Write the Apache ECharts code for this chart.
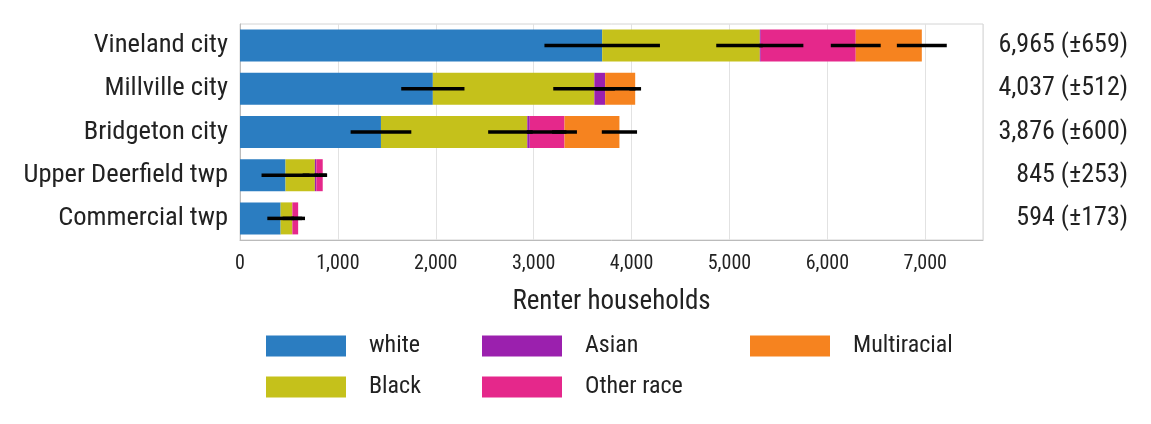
<!DOCTYPE html>
<html>
<head>
<meta charset="utf-8">
<script src="https://cdn.jsdelivr.net/npm/echarts@6/dist/echarts.min.js"></script>
<style>
  html, body { margin: 0; padding: 0; background: #fff; }
  #chart { width: 1151px; height: 424px; }
</style>
</head>
<body>
<div id="chart"></div>
<script>
const categories = ['Vineland city', 'Millville city', 'Bridgeton city', 'Upper Deerfield twp', 'Commercial twp'];

// renter households by race of householder
const white = [3700, 1970, 1440, 465, 415];
const black = [1610, 1650, 1495, 300, 120];
const asian = [10, 110, 25, 15, 0];
const otherRace = [970, 0, 355, 65, 59];
const multiracial = [675, 307, 561, 0, 0];

// margins of error per segment
const whiteMoe = [590, 323, 310, 245, 136];
const blackMoe = [445, 420, 400, 125, 100];
const asianMoe = [20, 100, 30, 20, 0];
const otherRaceMoe = [255, 0, 127, 40, 70];
const multiracialMoe = [255, 60, 180, 0, 0];

const totals = [6965, 4037, 3876, 845, 594];
const totalMoe = [659, 512, 600, 253, 173];

const groups = [
  { name: 'white', values: white, moe: whiteMoe, color: '#2b7dc1' },
  { name: 'Black', values: black, moe: blackMoe, color: '#c5c11b' },
  { name: 'Asian', values: asian, moe: asianMoe, color: '#9b20ae' },
  { name: 'Other race', values: otherRace, moe: otherRaceMoe, color: '#e5288b' },
  { name: 'Multiracial', values: multiracial, moe: multiracialMoe, color: '#f6831f' }
];

// error bars sit at the right end of each stacked segment
const errorData = [];
categories.forEach((c, i) => {
  let end = 0;
  groups.forEach(g => {
    end += g.values[i];
    if (g.values[i] > 0 && g.moe[i] > 0) {
      errorData.push([end - g.moe[i], end + g.moe[i], i]);
    }
  });
});

const fontFamily = 'Roboto';
const fontStyle = 'semi-condensed';
const textColor = '#222';
const fmt = v => v.toLocaleString('en-US');

const chart = echarts.init(document.getElementById('chart'));

const legendBase = {
  orient: 'vertical',
  top: 334,
  padding: 0,
  itemWidth: 80,
  itemHeight: 21,
  itemGap: 17,
  icon: 'rect',
  selectedMode: false,
  textStyle: { fontFamily, fontStyle, fontSize: 24, color: textColor, padding: [0, 0, 0, 18] }
};

chart.setOption({
  animation: false,
  grid: {
    left: 240, right: 168, top: 24, bottom: 184,
    show: true, borderColor: '#d4d4d4', borderWidth: 1
  },
  legend: [
    Object.assign({}, legendBase, { left: 266, data: ['white', 'Black'] }),
    Object.assign({}, legendBase, { left: 482, data: ['Asian', 'Other race'] }),
    Object.assign({}, legendBase, { left: 750, data: ['Multiracial'] })
  ],
  xAxis: {
    type: 'value',
    min: 0,
    max: 7590,
    interval: 1000,
    name: 'Renter households',
    nameLocation: 'middle',
    nameGap: 49,
    nameTextStyle: { fontFamily, fontStyle, fontSize: 27, color: textColor },
    axisLine: { show: true, lineStyle: { color: '#bbb' } },
    axisTick: { show: false },
    axisLabel: {
      fontFamily, fontStyle, fontSize: 20, color: textColor, margin: 14,
      showMaxLabel: false,
      formatter: v => fmt(v)
    },
    splitLine: { show: true, lineStyle: { color: '#e2e2e2', width: 1 } }
  },
  yAxis: [
    {
      type: 'category',
      data: categories,
      inverse: true,
      axisLine: { show: true, lineStyle: { color: '#bbb' } },
      axisTick: { show: false },
      axisLabel: { fontFamily, fontStyle, fontSize: 26.5, color: textColor, margin: 12 }
    },
    {
      type: 'category',
      data: categories,
      inverse: true,
      position: 'right',
      axisLine: { show: false },
      axisTick: { show: false },
      axisLabel: {
        fontFamily, fontStyle, fontSize: 26, color: textColor,
        align: 'right', margin: 145,
        formatter: (v, i) => fmt(totals[i]) + ' (±' + totalMoe[i] + ')'
      }
    }
  ],
  series: groups.map(g => ({
    name: g.name,
    type: 'bar',
    stack: 'race',
    barWidth: 32,
    itemStyle: { color: g.color },
    data: g.values
  })).concat([{
    type: 'custom',
    name: 'moe',
    z: 10,
    data: errorData,
    encode: { x: [0, 1], y: 2 },
    renderItem: (params, api) => {
      const a = api.coord([api.value(0), api.value(2)]);
      const b = api.coord([api.value(1), api.value(2)]);
      return {
        type: 'line',
        shape: { x1: a[0], y1: a[1], x2: b[0], y2: b[1] },
        style: { stroke: '#000', lineWidth: 3.5 }
      };
    }
  }])
});
</script>
</body>
</html>
